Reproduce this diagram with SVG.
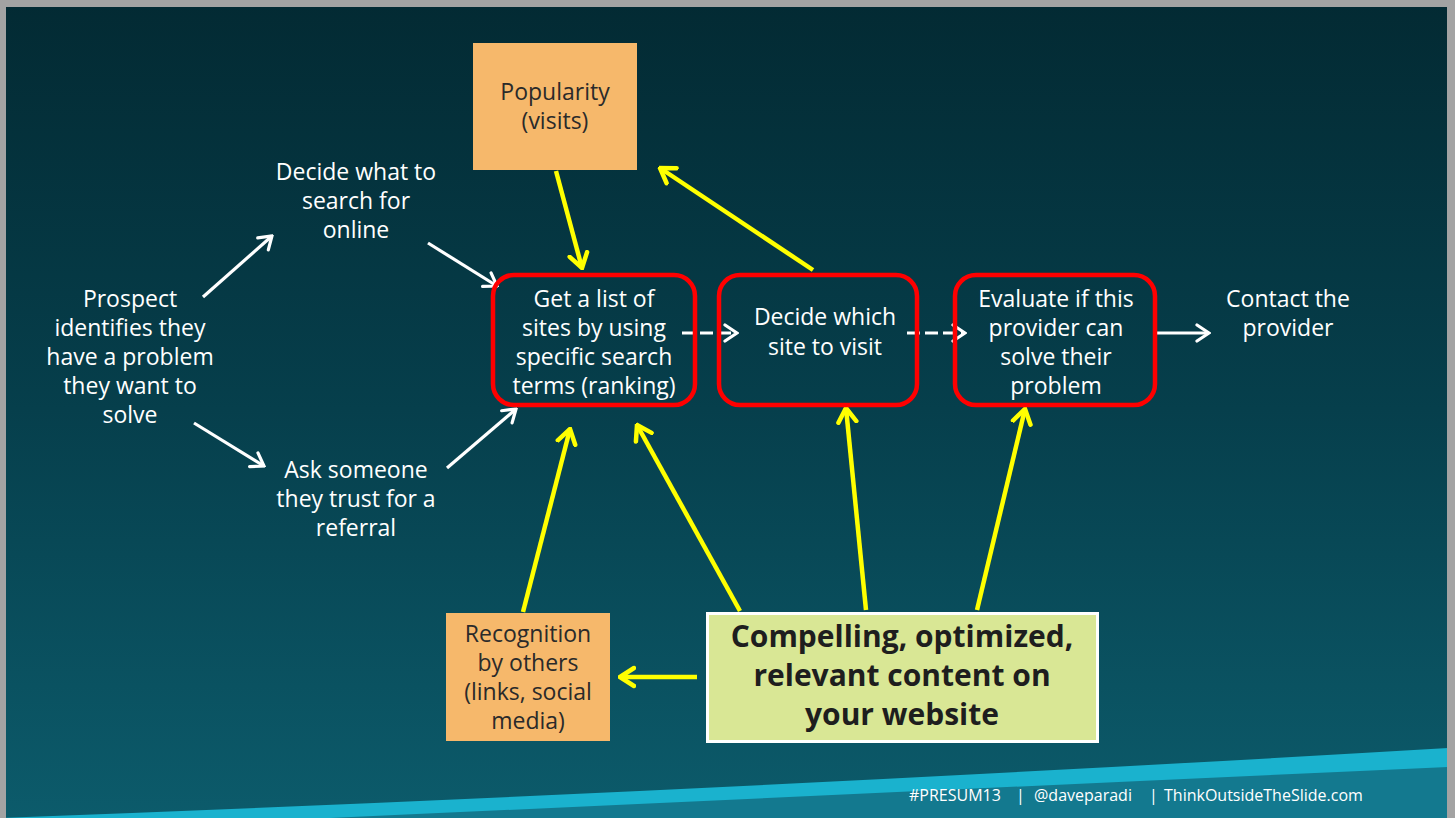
<svg xmlns="http://www.w3.org/2000/svg" width="1455" height="818" viewBox="0 0 1455 818">
  <defs>
    <linearGradient id="bg" x1="0" y1="0" x2="0" y2="1">
      <stop offset="0" stop-color="#032a33"/>
      <stop offset="0.5" stop-color="#063f4c"/>
      <stop offset="1" stop-color="#0c5b6b"/>
    </linearGradient>
    <marker id="headW" viewBox="-14 -10 16 20" markerWidth="16" markerHeight="20" refX="0" refY="0" orient="auto" markerUnits="userSpaceOnUse">
      <path d="M-12,-8 L0,0 L-12,8" fill="none" stroke="#ffffff" stroke-width="3.2" stroke-linecap="round" stroke-linejoin="miter"/>
    </marker>
    <marker id="headY" viewBox="-16 -12 18 24" markerWidth="18" markerHeight="24" refX="0" refY="0" orient="auto" markerUnits="userSpaceOnUse">
      <path d="M-14,-9 L0,0 L-14,9" fill="none" stroke="#ffff00" stroke-width="4.5" stroke-linecap="round" stroke-linejoin="miter"/>
    </marker>
    <style>
      .t { font-family: "Open Sans", "Noto Sans", "Liberation Sans", sans-serif; font-size: 23px; fill: #ffffff; text-anchor: middle; }
      .dark { fill: #2a2a2a; }
      .big { font-size: 30px; font-weight: bold; fill: #1e1e1e; }
      .foot { font-family: "Open Sans", "Noto Sans", "Liberation Sans", sans-serif; font-size: 16px; fill: #ffffff; }
      .step { fill: none; stroke: #ff0000; stroke-width: 4.5; }
      .tag { fill: #f6b86b; }
      .w { fill: none; stroke: #ffffff; stroke-width: 3.2; marker-end: url(#headW); }
      .dash { stroke-dasharray: 13 5; }
      .y { fill: none; stroke: #ffff00; stroke-width: 4.5; marker-end: url(#headY); }
    </style>
  </defs>

  <!-- slide background -->
  <rect x="0" y="0" width="1455" height="818" fill="url(#bg)"/>
  <!-- footer band -->
  <path d="M0,818 Q700,792 1448,748 L1448,818 Z" fill="#1ab2ce"/>
  <path d="M330,818 Q900,792 1448,767 L1448,818 Z" fill="#13798f"/>
  <!-- frame -->
  <path d="M0,0 H1455 V818 H1447 V7 H6 V818 H0 Z" fill="#a3a3a3"/>

  <g id="connectors">
    <line class="w" x1="203" y1="297" x2="272" y2="236"/>
    <line class="w" x1="194" y1="423" x2="264" y2="466"/>
    <line class="w" x1="428" y1="243" x2="497" y2="286"/>
    <line class="w" x1="447" y1="468" x2="516" y2="409"/>
    <line class="w dash" x1="682" y1="333" x2="737" y2="333"/>
    <line class="w dash" x1="907" y1="333" x2="965" y2="333"/>
    <line class="w" x1="1157" y1="333" x2="1209" y2="333"/>
    <line class="y" x1="556" y1="171" x2="582" y2="268"/>
    <line class="y" x1="813" y1="270" x2="660" y2="168"/>
    <line class="y" x1="523" y1="612" x2="570" y2="429"/>
    <line class="y" x1="740" y1="611" x2="637" y2="425"/>
    <line class="y" x1="866" y1="610" x2="846" y2="408"/>
    <line class="y" x1="977" y1="610" x2="1025" y2="409"/>
    <line class="y" x1="697" y1="677" x2="620" y2="677"/>
  </g>

  <g id="prospect">
    <text class="t" x="130" y="307">Prospect</text>
    <text class="t" x="130" y="336">identifies they</text>
    <text class="t" x="130" y="365">have a problem</text>
    <text class="t" x="130" y="394">they want to</text>
    <text class="t" x="130" y="423">solve</text>
  </g>

  <g id="decide-search">
    <text class="t" x="356" y="180">Decide what to</text>
    <text class="t" x="356" y="209">search for</text>
    <text class="t" x="356" y="238">online</text>
  </g>

  <g id="ask-referral">
    <text class="t" x="356" y="478">Ask someone</text>
    <text class="t" x="356" y="507">they trust for a</text>
    <text class="t" x="356" y="536">referral</text>
  </g>

  <g id="popularity">
    <rect class="tag" x="473" y="43" width="164" height="127"/>
    <text class="t dark" x="555" y="100">Popularity</text>
    <text class="t dark" x="555" y="129">(visits)</text>
  </g>

  <g id="get-list">
    <rect class="step" x="493" y="275" width="202" height="130" rx="21"/>
    <text class="t" x="594" y="307">Get a list of</text>
    <text class="t" x="594" y="336">sites by using</text>
    <text class="t" x="594" y="365">specific search</text>
    <text class="t" x="594" y="394">terms (ranking)</text>
  </g>

  <g id="decide-site">
    <rect class="step" x="719" y="275" width="198" height="130" rx="21"/>
    <text class="t" x="825" y="325">Decide which</text>
    <text class="t" x="825" y="355">site to visit</text>
  </g>

  <g id="evaluate">
    <rect class="step" x="955" y="275" width="200" height="130" rx="21"/>
    <text class="t" x="1056" y="307">Evaluate if this</text>
    <text class="t" x="1056" y="336">provider can</text>
    <text class="t" x="1056" y="365">solve their</text>
    <text class="t" x="1056" y="394">problem</text>
  </g>

  <g id="contact">
    <text class="t" x="1288" y="307">Contact the</text>
    <text class="t" x="1288" y="336">provider</text>
  </g>

  <g id="recognition">
    <rect class="tag" x="446" y="613" width="164" height="128"/>
    <text class="t dark" x="528" y="642">Recognition</text>
    <text class="t dark" x="528" y="671">by others</text>
    <text class="t dark" x="528" y="700">(links, social</text>
    <text class="t dark" x="528" y="729">media)</text>
  </g>

  <g id="content">
    <rect x="707.5" y="613.5" width="390" height="128" fill="#d9e795" stroke="#ffffff" stroke-width="3"/>
    <text class="t big" x="902" y="647">Compelling, optimized,</text>
    <text class="t big" x="902" y="686">relevant content on</text>
    <text class="t big" x="902" y="725">your website</text>
  </g>

  <g id="footer">
    <text class="foot" x="909" y="801">#PRESUM13</text>
    <text class="foot" x="1016" y="801">|</text>
    <text class="foot" x="1034" y="801">@daveparadi</text>
    <text class="foot" x="1149" y="801">|</text>
    <text class="foot" x="1164" y="801">ThinkOutsideTheSlide.com</text>
  </g>
</svg>
